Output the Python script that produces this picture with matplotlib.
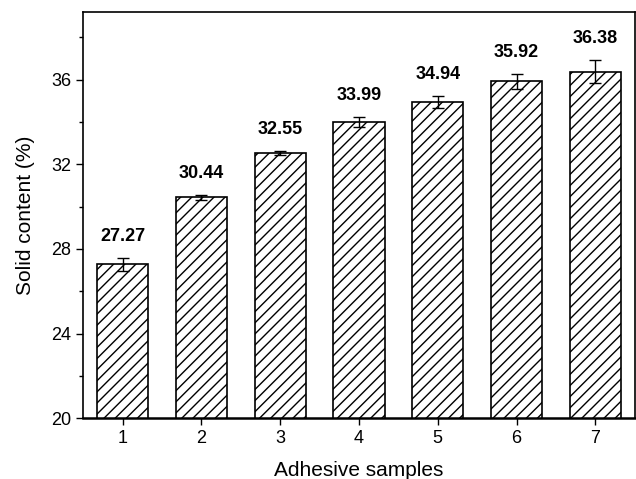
import matplotlib
matplotlib.use("Agg")
import matplotlib.pyplot as plt
from matplotlib.ticker import MultipleLocator

plt.rcParams['font.family'] = ['Liberation Sans', 'DejaVu Sans']
plt.rcParams['hatch.linewidth'] = 1.0

samples = [1, 2, 3, 4, 5, 6, 7]
solid = [27.27, 30.44, 32.55, 33.99, 34.94, 35.92, 36.38]
errs = [0.3, 0.12, 0.1, 0.25, 0.3, 0.35, 0.55]

fig = plt.figure(figsize=(6.36, 4.79), dpi=100)
ax = fig.add_axes([0.131, 0.127, 0.867, 0.848])

ax.bar(samples, solid, width=0.65, bottom=0, color='white', edgecolor='black',
       hatch='///', linewidth=1.2, zorder=2)
ax.errorbar(samples, solid, yerr=errs, fmt='none', ecolor='black', elinewidth=1.0,
            capsize=4, capthick=1.0, zorder=3)
for x, v, e in zip(samples, solid, errs):
    ax.text(x, v + e + 0.6, f"{v:.2f}", ha='center', va='bottom',
            fontsize=13, fontweight='bold')

ax.set_xlim(0.5, 7.5)
ax.set_ylim(20, 39.2)
ax.set_xticks(samples)
ax.yaxis.set_major_locator(MultipleLocator(4))
ax.yaxis.set_minor_locator(MultipleLocator(2))
ax.tick_params(axis='both', which='both', direction='out', labelsize=13, width=1.0)
ax.tick_params(which='major', length=5)
ax.tick_params(which='minor', length=3)
for s in ax.spines.values():
    s.set_linewidth(1.2)
ax.spines['bottom'].set_linewidth(1.8)

ax.set_xlabel('Adhesive samples', fontsize=15, labelpad=10)
ax.set_ylabel('Solid content (%)', fontsize=15, labelpad=12)

fig.savefig("out.png", dpi=100)
